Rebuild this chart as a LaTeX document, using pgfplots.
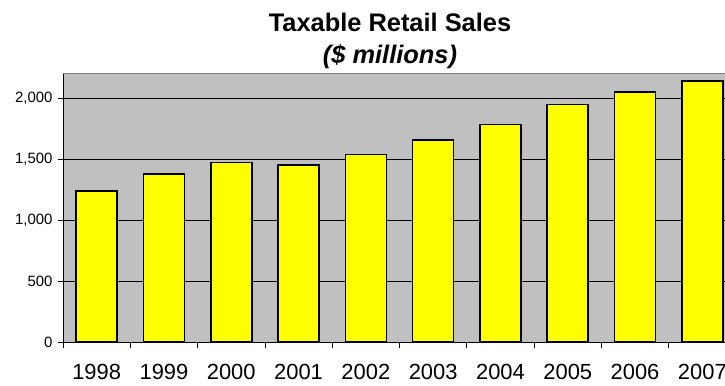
\documentclass[border=0pt]{standalone}
\usepackage{pgfplots}
\pgfplotsset{compat=1.18}
\usepackage{fontspec}
\setmainfont{Liberation Sans}
\definecolor{plotgray}{HTML}{C0C0C0}
\definecolor{baryellow}{HTML}{FFFF00}
\begin{document}
\begin{tikzpicture}[x=1bp,y=1bp]
\begin{scope}
\clip (0,0) rectangle (725,385);
\begin{axis}[
  at={(63bp,43bp)}, anchor=south west,
  scale only axis, width=673bp, height=268bp,
  xmin=-0.5, xmax=9.5, ymin=0, ymax=2200,
  axis background/.style={fill=plotgray},
  axis x line*=bottom, axis y line*=left,
  axis line style={black, line width=0.8bp, -},
  ybar, bar width=41bp,
  ytick={0,500,1000,1500,2000},
  scaled y ticks=false,
  yticklabel style={font=\fontsize{15}{15}\selectfont, xshift=-2bp},
  /pgf/number format/assume math mode=true,
  /pgf/number format/1000 sep={,},
  ymajorgrids,
  major grid style={black, line width=0.7bp},
  tick align=outside,
  major tick length=5bp,
  tick style={black, line width=0.8bp},
  xtick={0,...,9},
  xticklabels={1998,1999,2000,2001,2002,2003,2004,2005,2006,2007},
  xtick style={draw=none},
  xticklabel style={font=\fontsize{22}{22}\selectfont, anchor=base, yshift=-32bp},
  extra x ticks={-0.5,0.5,1.5,2.5,3.5,4.5,5.5,6.5,7.5,8.5,9.5},
  extra x tick labels={},
  extra x tick style={xtick style={draw=black, line width=0.8bp}, major tick length=6bp, grid=none},
]
\addplot[fill=baryellow, draw=black, line width=1.6bp] coordinates {
  (0,1239) (1,1381) (2,1472) (3,1453) (4,1540)
  (5,1660) (6,1787) (7,1950) (8,2054) (9,2142)
};
\draw[color=gray, line width=1bp] (axis cs:-0.5,2200) -- (axis cs:9.5,2200);
\end{axis}
\end{scope}
\node[anchor=base, font=\bfseries\fontsize{25.5}{25.5}\selectfont] at (390,354) {Taxable Retail Sales};
\node[anchor=base, font=\bfseries\itshape\fontsize{25.5}{25.5}\selectfont] at (390,322) {(\$ millions)};
\pgfresetboundingbox
\useasboundingbox (0,0) rectangle (725,385);
\end{tikzpicture}
\end{document}
